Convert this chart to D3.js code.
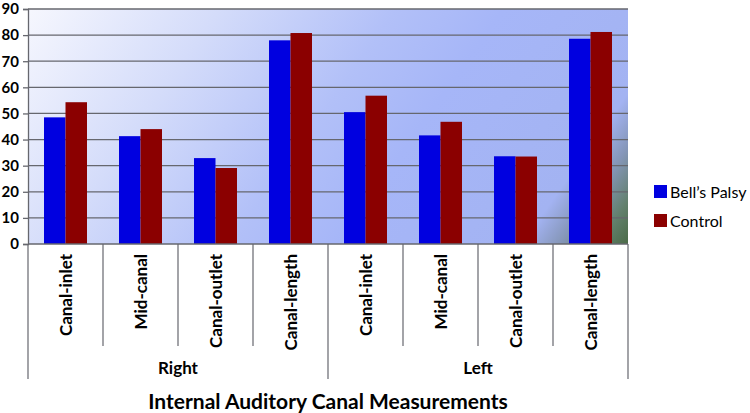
<!DOCTYPE html>
<html lang="en">
  <head>
    <meta charset="UTF-8" />
    <title>Internal Auditory Canal Measurements</title>
    <script src="https://d3js.org/d3.v7.min.js"></script>
    <style>
      body { margin: 0; background: #fff; }
      svg text { font-family: Lato, "Open Sans", sans-serif; fill: #000; }
      .tick-label { font-size: 15px; font-weight: bold; }
      .cat-label { font-size: 17px; font-weight: bold; }
      .group-label { font-size: 17px; font-weight: bold; }
      .chart-title { font-size: 21px; font-weight: bold; }
      .legend-text { font-size: 16px; }
    </style>
  </head>
  <body>
    <div id="chart"></div>
    <script>
      // Data
      const groups = ["Right", "Left"];
      const measures = ["Canal-inlet", "Mid-canal", "Canal-outlet", "Canal-length"];
      const seriesNames = ["Bell\u2019s Palsy", "Control"];
      const bellsPalsy = [48.5, 41.3, 32.9, 78.0, 50.5, 41.6, 33.6, 78.6];
      const control = [54.3, 44.0, 29.1, 80.8, 56.8, 46.8, 33.5, 81.2];
      const yTicks = [0, 10, 20, 30, 40, 50, 60, 70, 80, 90];

      const width = 750, height = 413;
      const plot = { left: 28, right: 628, top: 9, bottom: 244 };
      const colors = ["#0000e0", "#8b0000"];

      const categories = [];
      groups.forEach((g) => measures.forEach((m) => categories.push(g + "|" + m)));

      const x = d3.scaleBand().domain(categories).range([plot.left, plot.right]).paddingInner(0).paddingOuter(0);
      const xInner = d3.scaleBand().domain(seriesNames).range([16, x.bandwidth() - 16]);
      const y = d3.scaleLinear().domain([0, 90]).range([plot.bottom, plot.top]);

      const svg = d3.select("#chart").append("svg").attr("width", width).attr("height", height);

      // Plot background: diagonal gradient, white -> blue -> dark green corner
      const defs = svg.append("defs");
      const lin = defs.append("linearGradient").attr("id", "bgLin")
        .attr("gradientUnits", "userSpaceOnUse")
        .attr("x1", plot.left).attr("y1", plot.top).attr("x2", 540).attr("y2", 370);
      [
        [0, "#f6f7fe"],
        [0.25, "#d4dcfa"],
        [0.48, "#b2c0f8"],
        [0.62, "#a6b6f8"],
        [0.86, "#a3b3f2"],
        [0.91, "#8596b8"],
        [0.96, "#62806c"],
        [1, "#4a6a46"],
      ].forEach(([o, c]) => lin.append("stop").attr("offset", o).attr("stop-color", c));

      svg.append("rect").attr("x", plot.left).attr("y", plot.top)
        .attr("width", plot.right - plot.left).attr("height", plot.bottom - plot.top)
        .attr("fill", "url(#bgLin)");

      // Gridlines
      svg.append("g").selectAll("line").data(yTicks.filter((t) => t > 0)).join("line")
        .attr("x1", plot.left).attr("x2", plot.right)
        .attr("y1", (d) => y(d)).attr("y2", (d) => y(d))
        .attr("stroke", "#66676e").attr("stroke-width", 1.3);

      // Y axis
      const yAxis = svg.append("g").attr("transform", `translate(${plot.left},0)`)
        .call(d3.axisLeft(y).tickValues(yTicks).tickSize(5).tickPadding(4));
      yAxis.select(".domain").attr("stroke", "#66676e").attr("stroke-width", 1.3);
      yAxis.selectAll(".tick line").attr("stroke", "#66676e").attr("stroke-width", 1.3);
      yAxis.selectAll(".tick text").attr("class", "tick-label").attr("font-family", null).attr("font-size", null);

      // Bars
      const series = [bellsPalsy, control];
      series.forEach((vals, si) => {
        svg.append("g").selectAll("rect").data(vals).join("rect")
          .attr("x", (d, i) => x(categories[i]) + xInner(seriesNames[si]))
          .attr("y", (d) => y(d))
          .attr("width", xInner.bandwidth())
          .attr("height", (d) => y(0) - y(d))
          .attr("fill", colors[si]);
      });

      // X axis line at zero
      svg.append("line").attr("x1", plot.left).attr("x2", plot.right)
        .attr("y1", y(0)).attr("y2", y(0)).attr("stroke", "#66676e").attr("stroke-width", 1.5);

      // Category separators
      const axisG = svg.append("g");
      categories.forEach((c, i) => {
        const isGroupEdge = i % measures.length === 0;
        axisG.append("line")
          .attr("x1", x(c)).attr("x2", x(c))
          .attr("y1", y(0)).attr("y2", isGroupEdge ? 379 : 346)
          .attr("stroke", "#66676e").attr("stroke-width", 1.2);
      });
      axisG.append("line").attr("x1", plot.right).attr("x2", plot.right)
        .attr("y1", y(0)).attr("y2", 379).attr("stroke", "#66676e").attr("stroke-width", 1.2);

      // Category labels
      axisG.selectAll(".cat-label").data(categories).join("text")
        .attr("class", "cat-label")
        .attr("transform", (d) => `translate(${x(d) + x.bandwidth() / 2 + 6},254) rotate(-90)`)
        .attr("text-anchor", "end")
        .text((d) => d.split("|")[1]);

      // Group labels
      axisG.selectAll(".group-label").data(groups).join("text")
        .attr("class", "group-label")
        .attr("x", (g, gi) => x(categories[gi * measures.length]) + x.bandwidth() * measures.length / 2)
        .attr("y", 374)
        .attr("text-anchor", "middle")
        .text((d) => d);

      // Title
      svg.append("text").attr("class", "chart-title")
        .attr("x", 328).attr("y", 409).attr("text-anchor", "middle")
        .text("Internal Auditory Canal Measurements");

      // Legend
      const legend = svg.append("g").attr("transform", "translate(654,185)");
      const items = legend.selectAll("g").data(seriesNames).join("g")
        .attr("transform", (d, i) => `translate(0,${i * 29})`);
      items.append("rect").attr("width", 13).attr("height", 13).attr("fill", (d, i) => colors[i]);
      items.append("text").attr("class", "legend-text").attr("x", 16).attr("y", 12.5).text((d) => d);
    </script>
  </body>
</html>
